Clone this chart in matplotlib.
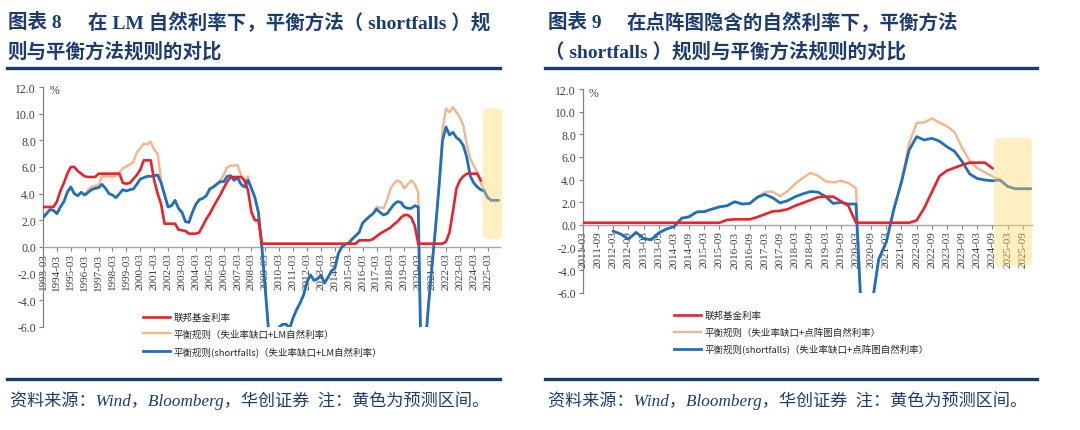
import numpy as np
import pandas as pd
import matplotlib
matplotlib.use("Agg")
import matplotlib.pyplot as plt
from matplotlib.patches import FancyBboxPatch
from matplotlib.transforms import IdentityTransform

# ---------------- data (quarterly) ----------------
nan = np.nan
left_periods = pd.period_range("1993Q1", "2025Q4", freq="Q")
right_periods = pd.period_range("2011Q1", "2025Q4", freq="Q")

left_fed = [
    3.0, 3.0, 3.0, 3.0,  3.4, 4.2, 4.8, 5.5,  6.0, 6.0, 5.7, 5.5,  5.3, 5.25, 5.25, 5.25,
    5.5, 5.5, 5.5, 5.5,  5.5, 5.5, 5.5, 4.8,  4.75, 4.8, 5.1, 5.4,  5.8, 6.5, 6.5, 6.5,
    5.0, 4.0, 3.2, 1.75,  1.75, 1.75, 1.75, 1.3,  1.25, 1.2, 1.0, 1.0,  1.0, 1.1, 1.6, 2.1,
    2.5, 3.0, 3.45, 3.9,  4.4, 4.9, 5.25, 5.25,  5.25, 5.25, 5.0, 4.25,  2.6, 2.0, 2.0, 0.25,
    0.25, 0.25, 0.25, 0.25,  0.25, 0.25, 0.25, 0.25,  0.25, 0.25, 0.25, 0.25,
    0.25, 0.25, 0.25, 0.25,  0.25, 0.25, 0.25, 0.25,  0.25, 0.25, 0.25, 0.25,
    0.25, 0.25, 0.25, 0.5,  0.5, 0.5, 0.5, 0.6,  0.8, 1.0, 1.15, 1.3,  1.45, 1.7, 1.9, 2.2,
    2.4, 2.4, 2.2, 1.6,  0.25, 0.25, 0.25, 0.25,  0.25, 0.25, 0.25, 0.25,
    0.4, 1.1, 2.7, 4.4,  5.0, 5.3, 5.5, 5.5,  5.5, 5.5, 5.0, nan,  nan, nan, nan, nan,
]
left_shortfall = [
    2.2, 2.5, 2.8, 2.75,  2.5, 3.0, 3.4, 4.1,  4.5, 4.0, 3.85, 4.1,  3.9, 4.1, 4.3, 4.4,
    4.45, 4.7, 4.4, 4.0,  3.9, 3.7, 4.0, 4.3,  4.2, 4.3, 4.35, 4.7,  5.1, 5.2, 5.3, 5.3,
    5.35, 5.4, 4.8, 3.9,  3.0, 3.1, 3.5, 2.9,  2.6, 1.9, 1.85, 2.6,  3.2, 3.55, 3.65, 3.85,
    4.35, 4.5, 4.7, 4.9,  4.9, 5.3, 5.35, 5.0,  5.2, 4.7, 4.5, 5.0,  4.4, 3.7, 2.6, 0.0,
    -3.2, -6.5, -8.5, -8.0,  -6.0, -5.8, -5.8, -6.1,  -5.3, -4.7, -4.2, -3.6,
    -2.6, -2.1, -2.5, -2.4,  -2.1, -2.7, -2.3, -1.8,  -1.6, -0.5, 0.0, 0.2,
    0.3, 0.6, 0.85, 1.1,  1.8, 2.05, 2.3, 2.5,  2.85, 2.6, 2.4, 2.5,  2.85, 3.2, 3.4, 3.35,
    3.0, 2.9, 2.9, 3.1,  3.0, -11.5, -7.5, -4.2,  -1.3, 1.5, 4.6, 8.0,
    9.0, 8.4, 8.6, 8.2,  8.0, 7.6, 6.7, 5.3,  4.8, 4.5, 4.3, 4.2,  3.7, 3.5, 3.5, 3.5,
]
left_balanced = [
    2.2, 2.5, 2.8, 2.75,  2.5, 3.0, 3.4, 4.1,  4.5, 4.0, 3.85, 4.1,  3.9, 4.3, 4.5, 4.6,
    4.6, 5.3, 5.3, 5.3,  5.25, 5.35, 5.6, 5.9,  6.05, 6.2, 6.35, 7.1,  7.4, 7.75, 7.7, 7.9,
    7.3, 7.0, 5.0, 3.9,  3.0, 3.1, 3.5, 2.9,  2.6, 1.9, 1.85, 2.6,  3.2, 3.55, 3.65, 3.85,
    4.35, 4.5, 4.75, 5.0,  5.4, 6.0, 6.1, 6.1,  6.15, 5.4, 4.9, 5.3,  4.4, 3.7, 2.6, 0.0,
    -3.2, -6.5, -8.5, -8.0,  -6.0, -5.8, -5.8, -6.1,  -5.3, -4.7, -4.2, -3.6,
    -2.6, -2.1, -2.5, -2.4,  -2.1, -2.7, -2.3, -1.8,  -1.6, -0.5, 0.0, 0.2,
    0.3, 0.6, 0.85, 1.1,  1.8, 2.05, 2.3, 2.5,  3.0, 2.95, 2.9, 3.5,  4.35, 4.75, 5.0, 4.85,
    4.4, 4.7, 5.0, 4.7,  4.1, -11.5, -7.5, -4.2,  -1.3, 1.5, 4.6, 8.8,
    10.4, 10.1, 10.5, 10.1,  9.7, 9.1, 7.6, 6.6,  6.1, 5.6, 4.8, 4.3,  3.7, 3.5, 3.5, 3.5,
]

right_fed = [
    0.2, 0.2, 0.2, 0.2,  0.2, 0.2, 0.2, 0.2,  0.2, 0.2, 0.2, 0.2,  0.2, 0.2, 0.2, 0.2,
    0.2, 0.2, 0.2, 0.45,  0.5, 0.5, 0.5, 0.7,  0.95, 1.2, 1.25, 1.4,  1.7, 1.95, 2.2, 2.45,
    2.5, 2.5, 2.1, 1.7,  0.2, 0.2, 0.2, 0.2,  0.2, 0.2, 0.2, 0.2,  0.4, 1.5, 2.9, 4.3,
    4.8, 5.05, 5.3, 5.5,  5.5, 5.5, 5.0, nan,  nan, nan, nan, nan,
]
right_shortfall = [
    nan, nan, nan, nan,  -0.55, -0.8, -1.25, -0.65,  -1.2, -1.3, -0.7, -0.35,
    -0.15, 0.6, 0.73, 1.15,  1.18, 1.4, 1.6, 1.7,  2.05, 1.85, 1.9, 2.45,
    2.7, 2.4, 1.95, 2.15,  2.5, 2.75, 2.95, 2.9,  2.5, 1.9, 2.0, 1.85,
    1.85, -12.0, -7.5, -3.0,  -1.5, 1.4, 3.8, 6.6,  7.8, 7.5, 7.65, 7.4,
    6.9, 6.5, 5.6, 4.5,  4.1, 3.97, 3.9, 3.97,  3.4, 3.2, 3.2, 3.2,
]
right_balanced = [
    nan, nan, nan, nan,  -0.55, -0.8, -1.25, -0.65,  -1.2, -1.3, -0.7, -0.35,
    -0.15, 0.6, 0.73, 1.15,  1.18, 1.4, 1.6, 1.7,  2.05, 1.85, 1.9, 2.45,
    2.9, 2.95, 2.55, 3.0,  3.65, 4.15, 4.6, 4.35,  3.85, 3.75, 3.9, 3.7,
    3.25, -12.0, -7.5, -3.0,  -1.5, 1.4, 3.8, 7.2,  9.0, 9.05, 9.4, 9.05,
    8.7, 8.2, 6.8, 5.65,  5.0, 4.65, 4.3, 3.97,  3.4, 3.2, 3.2, 3.2,
]

left_tick_labels = [f"{y}-03" for y in range(1993, 2026)]
right_tick_labels = [f"{y}-{m}" for y in range(2011, 2026) for m in ("03", "09")]

left_labels = ["联邦基金利率", "平衡规则（失业率缺口+LM自然利率）",
               "平衡规则(shortfalls)（失业率缺口+LM自然利率）"]
right_labels = ["联邦基金利率", "平衡规则（失业率缺口+点阵图自然利率）",
                "平衡规则(shortfalls)（失业率缺口+点阵图自然利率）"]

left_titles = ["图表 8", "在 LM 自然利率下，平衡方法（ shortfalls ）规", "则与平衡方法规则的对比"]
right_titles = ["图表 9", "在点阵图隐含的自然利率下，平衡方法", "（ shortfalls ）规则与平衡方法规则的对比"]
source_text = "资料来源：Wind，Bloomberg，华创证券  注：黄色为预测区间。"

# forecast windows (time, value) in data units
left_band = (2024.80, 2026.20, 0.6, 10.4)
right_band = (2024.72, 2025.97, -3.6, 7.7)

# ---------------- style ----------------
RED = "#E8232B"
ORANGE = "#F5B48A"
BLUE = "#1F6FC0"
NAVY = "#1B3C73"
BAND = "#FFD966"
TXT = "#404040"
SERIF = ["Liberation Serif", "Noto Sans CJK SC"]
CJK = ["Noto Sans CJK SC", "DejaVu Sans"]

W, H = 1080, 431
fig = plt.figure(figsize=(W / 100, H / 100), dpi=100)


def fx(p):
    return p / W


def fy(p):
    return 1 - p / H


def to_t(periods):
    return np.array([p.year + (p.quarter * 3 - 1) / 12 for p in periods])


def tick_pos(labels):
    return [int(s[:4]) + (int(s[5:]) - 1) / 12 for s in labels]


def make_axes(box, xlim, periods, fed, bal, sf, ticklabels, labels, band, leg_xy):
    x0, y0, x1, y1 = box
    ax = fig.add_axes([fx(x0), fy(y1), fx(x1 - x0), (y1 - y0) / H])
    t = to_t(periods)
    ax.plot(t, bal, color=ORANGE, lw=1.7, label=labels[1], zorder=2, solid_joinstyle="round")
    ax.plot(t, sf, color=BLUE, lw=2.0, label=labels[2], zorder=3, solid_joinstyle="round")
    ax.plot(t, fed, color=RED, lw=1.9, label=labels[0], zorder=4, solid_joinstyle="round")
    ax.set_xlim(*xlim)
    ax.set_ylim(-6, 12)
    for s in ("top", "right"):
        ax.spines[s].set_visible(False)
    ax.spines["bottom"].set_position(("data", 0))
    ax.spines["left"].set_color("#808080")
    ax.spines["bottom"].set_color("#a6a6a6")
    ax.spines["left"].set_linewidth(0.9)
    ax.spines["bottom"].set_linewidth(1.0)
    yt = np.arange(-6, 13, 2)
    ax.set_yticks(yt)
    ax.set_yticklabels([f"{v:.1f}" for v in yt], fontfamily=SERIF, fontsize=8.5, color=TXT)
    ax.set_xticks(tick_pos(ticklabels))
    ax.set_xticklabels(ticklabels, rotation=90, fontfamily=SERIF, fontsize=8, color=TXT,
                       va="top", ha="center")
    ax.tick_params(axis="x", direction="out", length=3, width=0.8, color="#808080", pad=1)
    ax.tick_params(axis="y", direction="out", length=3, width=0.8, color="#808080", pad=2)
    ax.patch.set_alpha(0)

    # forecast band
    fig.canvas.draw()
    (bx0, by0) = ax.transData.transform((band[0], band[2]))
    (bx1, by1) = ax.transData.transform((band[1], band[3]))
    r = 5
    patch = FancyBboxPatch((bx0 + r, by0 + r), bx1 - bx0 - 2 * r, by1 - by0 - 2 * r,
                           boxstyle=f"round,pad={r}", transform=IdentityTransform(),
                           facecolor=BAND, edgecolor="none", alpha=0.4, zorder=10,
                           clip_on=False)
    ax.add_artist(patch)

    handles, labs = ax.get_legend_handles_labels()
    order = [labs.index(l) for l in labels]
    leg = ax.legend([handles[i] for i in order], [labs[i] for i in order],
                    loc="upper left", bbox_to_anchor=(fx(leg_xy[0]), fy(leg_xy[1])),
                    bbox_transform=fig.transFigure, frameon=False, borderpad=0,
                    borderaxespad=0, handlelength=2.9, handletextpad=0.35,
                    labelspacing=0.75, prop={"family": CJK, "size": 6.8})
    for txt in leg.get_texts():
        txt.set_color("#262626")
    return ax


ax1 = make_axes((43, 88, 500, 328), (1993.17, 2026.05), left_periods, left_fed,
                left_balanced, left_shortfall, left_tick_labels, left_labels,
                left_band, (143, 314))
ax2 = make_axes((583, 90, 1032, 294), (2011.17, 2025.97), right_periods, right_fed,
                right_balanced, right_shortfall, right_tick_labels, right_labels,
                right_band, (674, 312))

fig.text(fx(50), fy(91), "%", fontfamily=SERIF, fontsize=8.5, color=TXT, va="center")
fig.text(fx(589), fy(94), "%", fontfamily=SERIF, fontsize=8.5, color=TXT, va="center")

# titles
for (x_a, x_b, x_c), titles in (((8, 88, 8), left_titles), ((548, 627, 545), right_titles)):
    fig.text(fx(x_a), fy(23), titles[0], fontfamily=SERIF, fontsize=14, weight="bold",
             color=NAVY, va="center")
    fig.text(fx(x_b), fy(23), titles[1], fontfamily=SERIF, fontsize=14, weight="bold",
             color=NAVY, va="center")
    fig.text(fx(x_c), fy(52), titles[2], fontfamily=SERIF, fontsize=14, weight="bold",
             color=NAVY, va="center")

# rules
for (a, b) in ((7, 500), (545, 1037)):
    fig.add_artist(plt.Line2D([fx(a), fx(b)], [fy(68.5), fy(68.5)], color=NAVY, lw=2.4,
                              transform=fig.transFigure))
    fig.add_artist(plt.Line2D([fx(a), fx(b)], [fy(379.5), fy(379.5)], color=NAVY, lw=2.4,
                              transform=fig.transFigure))

for x in (10, 548):
    fig.text(fx(x), fy(401), source_text, fontfamily=SERIF, style="italic", fontsize=12.3,
             color=NAVY, va="center")

fig.savefig("out.png", dpi=100)
